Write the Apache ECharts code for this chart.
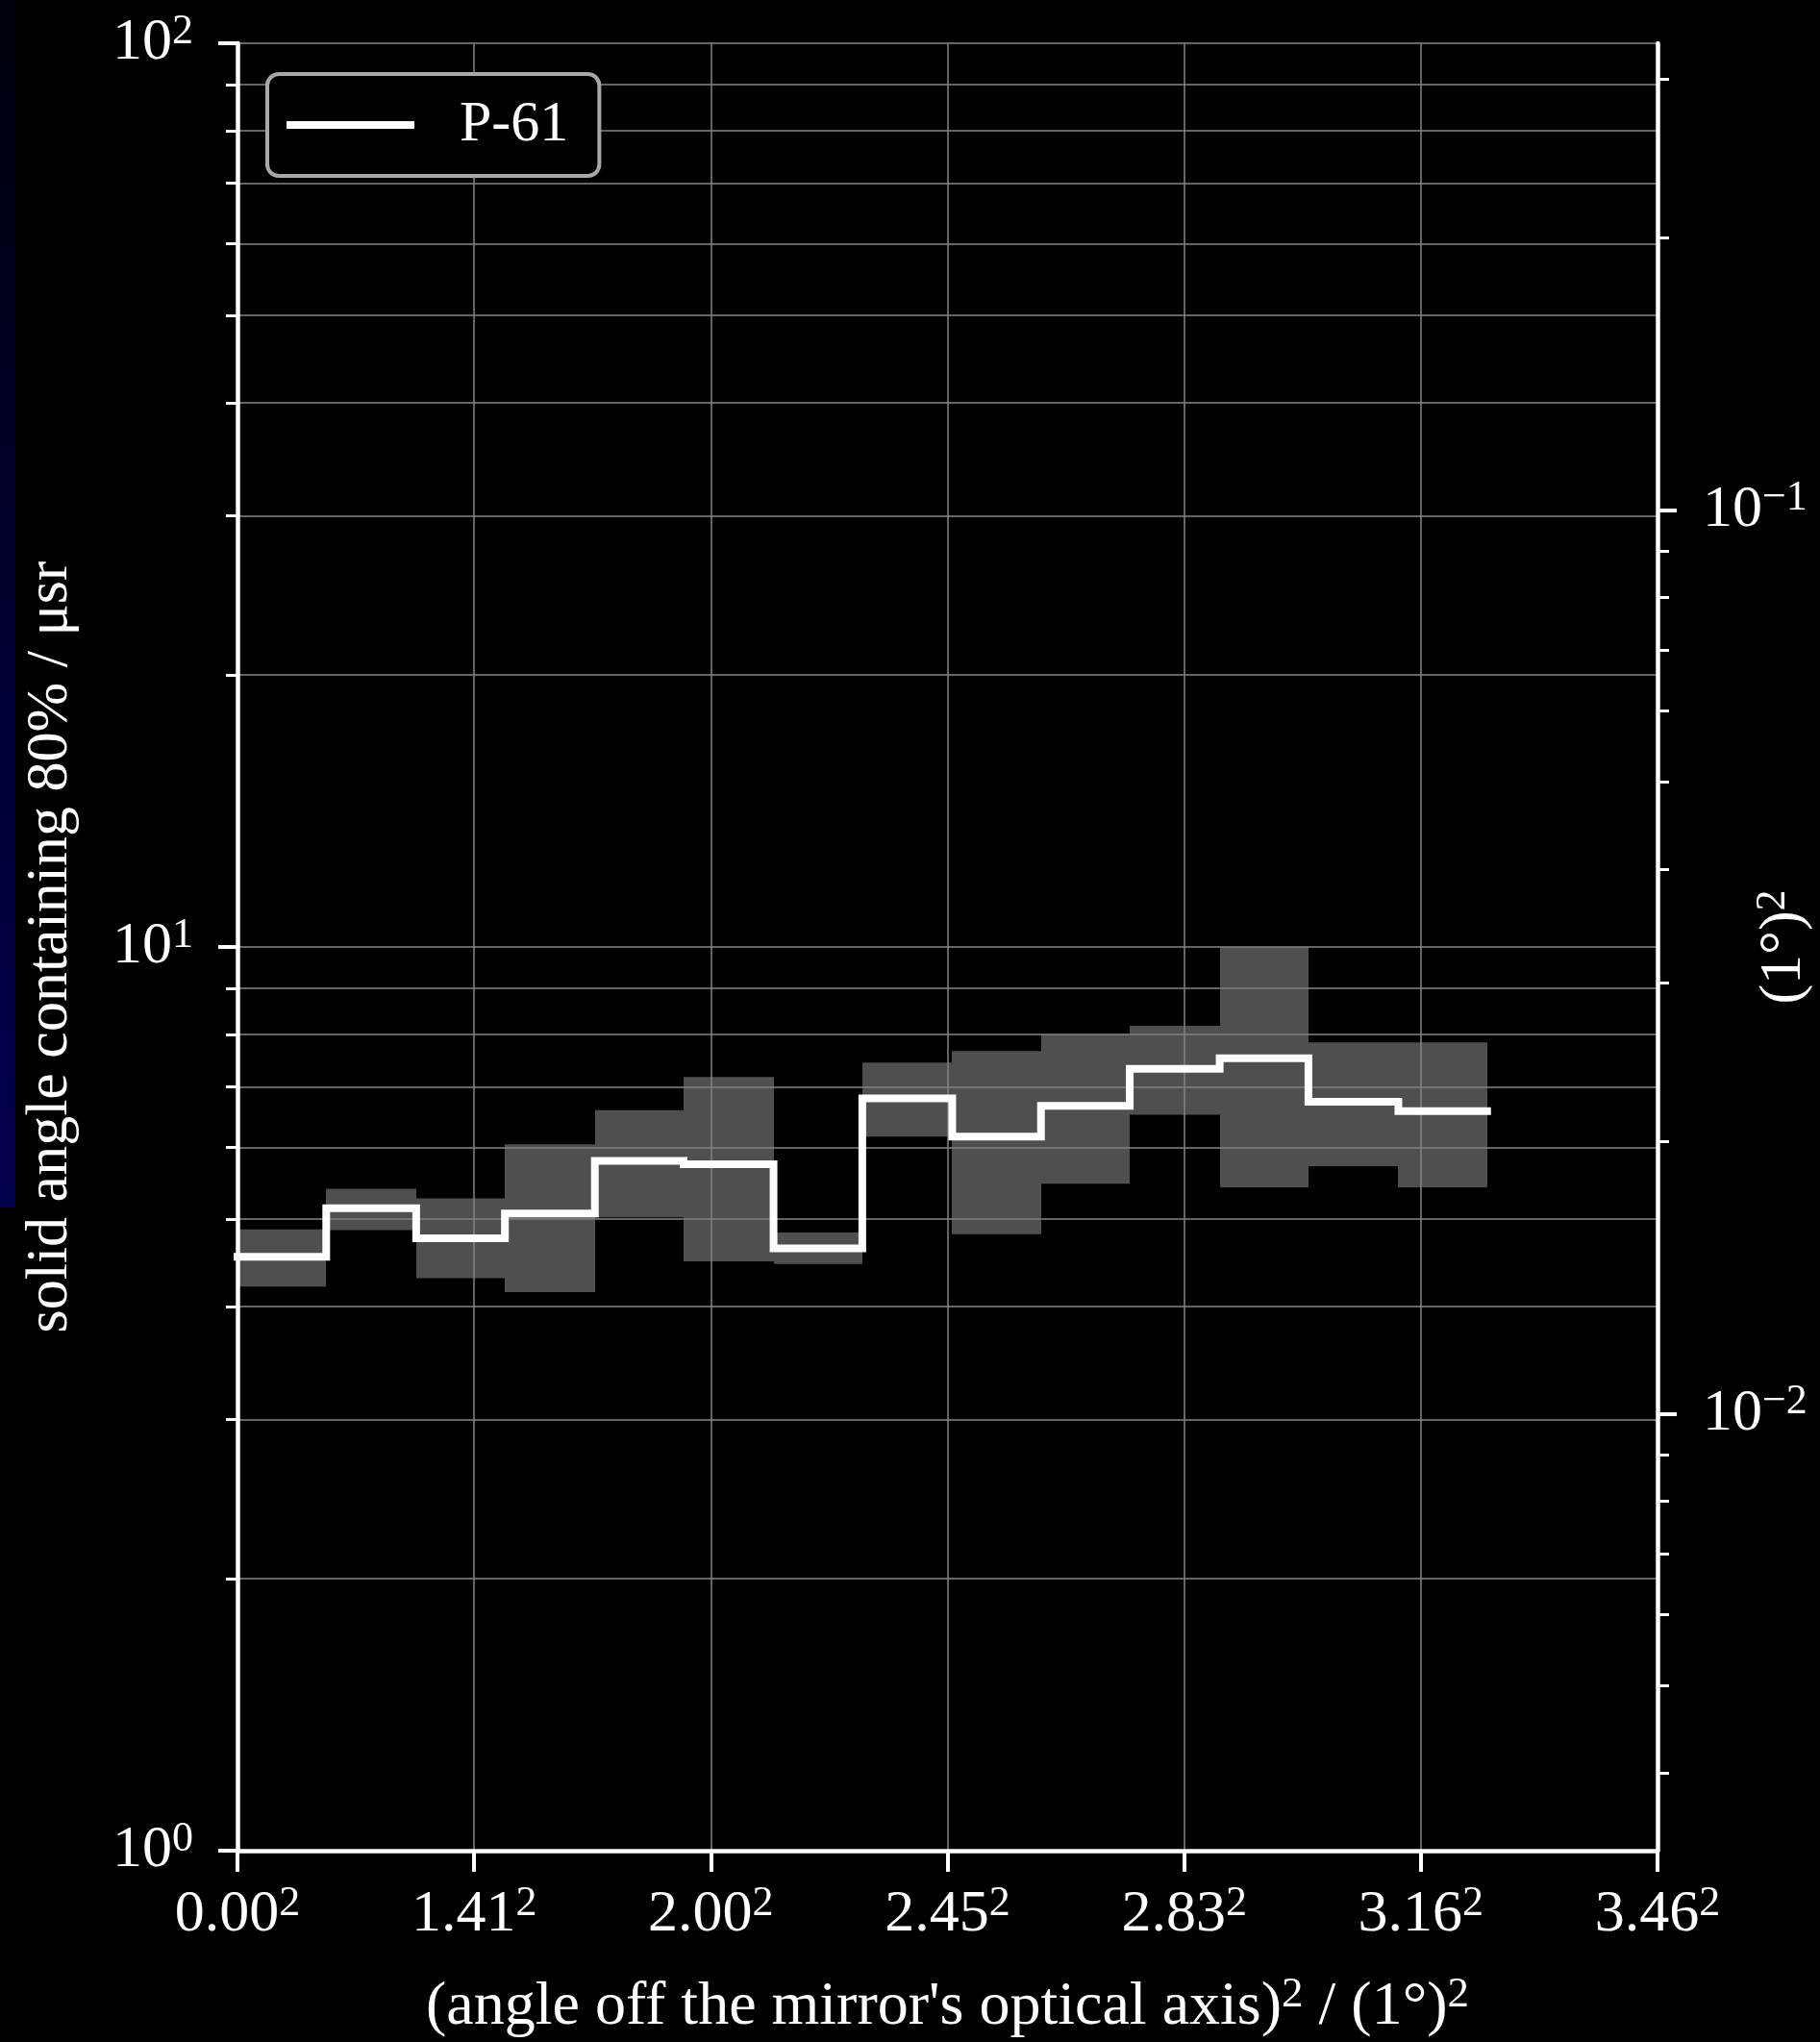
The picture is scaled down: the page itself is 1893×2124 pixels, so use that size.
<!DOCTYPE html>
<html>
<head>
<meta charset="utf-8">
<script src="https://cdn.jsdelivr.net/npm/echarts@6/dist/echarts.min.js"></script>
<style>
html,body{margin:0;padding:0;background:#000;}
#chart{width:1893px;height:2124px;}
</style>
</head>
<body>
<div id="chart"></div>
<script>
// ---- data ----
const binEdges   = [0, 0.75, 1.51, 2.26, 3.02, 3.77, 4.53, 5.28, 6.04, 6.79, 7.54, 8.30, 9.05, 9.81, 10.56];
const medianVals = [4.54, 5.14, 4.76, 5.07, 5.80, 5.75, 4.64, 6.80, 6.17, 6.67, 7.33, 7.53, 6.74, 6.58];
const upperVals  = [4.87, 5.40, 5.27, 6.05, 6.60, 7.18, 4.83, 7.45, 7.67, 8.00, 8.18, 10.0, 7.84, 7.84];
const lowerVals  = [4.21, 4.86, 4.30, 4.15, 5.02, 4.49, 4.46, 6.17, 4.81, 5.47, 6.52, 5.42, 5.72, 5.42];
const seriesName = 'P-61';

const xTickValues = [0, 2, 4, 6, 8, 10, 12];
const xTickLabels = ['0.00', '1.41', '2.00', '2.45', '2.83', '3.16', '3.46'];

const yMajorValues = [1, 10, 100];
const yMajorExps   = ['0', '1', '2'];
const yMinorValues = [2, 3, 4, 5, 6, 7, 8, 9, 20, 30, 40, 50, 60, 70, 80, 90];

const rMajorValues = [0.01, 0.1];
const rMajorExps   = ['\u22122', '\u22121'];
const rMinorValues = [0.004, 0.005, 0.006, 0.007, 0.008, 0.009,
                      0.02, 0.03, 0.04, 0.05, 0.06, 0.07, 0.08, 0.09, 0.2, 0.3];

const Y_MIN = 1, Y_MAX = 100;          // μsr
const MUSR_PER_DEG2 = 304.617;         // 1 (deg)^2 in μsr

const xTitle = ['(angle off the mirror\'s optical axis)', '2', ' / (1\u00B0)', '2'];
const yTitle = 'solid angle containing 80% / \u03BCsr';
const rTitle = ['(1\u00B0)', '2'];

// ---- styles ----
const FONT = '"Liberation Serif", "DejaVu Serif", "Times New Roman", serif';
const WHITE = '#ffffff';
const GRID_COLOR = 'rgba(128,128,128,0.78)';
const rich = {
  b: {fontSize: 62, fontFamily: FONT, color: WHITE, lineHeight: 68},
  s: {fontSize: 44, fontFamily: FONT, color: WHITE, lineHeight: 30, verticalAlign: 'top'}
};
const richTitle = {
  b: {fontSize: 64, fontFamily: FONT, color: WHITE, lineHeight: 70},
  s: {fontSize: 45, fontFamily: FONT, color: WHITE, lineHeight: 28, verticalAlign: 'top'}
};
function findIdx(arr, v) {
  return arr.findIndex(a => Math.abs(Math.log10(a) - Math.log10(v)) < 1e-6);
}

// line data: step from each bin edge
const stepData = binEdges.map((e, i) => [e, medianVals[Math.min(i, medianVals.length - 1)]]);
const bandData = medianVals.map((m, i) => [binEdges[i], binEdges[i + 1], lowerVals[i], upperVals[i]]);

const chart = echarts.init(document.getElementById('chart'), null, {renderer: 'canvas'});

const option = {
  backgroundColor: '#000',
  animation: false,
  textStyle: {fontFamily: FONT},
  graphic: [{
    type: 'rect', left: 0, top: 0, silent: true, z: -10,
    shape: {width: 16, height: 1256},
    style: {fill: new echarts.graphic.LinearGradient(0, 0, 0, 1, [
      {offset: 0, color: '#00000c'},
      {offset: 0.45, color: '#00002e'},
      {offset: 1, color: '#000050'}
    ])}
  }],
  grid: {left: 247, right: 169, top: 45, bottom: 199, containLabel: false, outerBoundsMode: 'none'},
  legend: {
    left: 278, top: 77,
    padding: [22, 32, 22, 20],
    backgroundColor: '#000',
    borderColor: '#a8a8a8', borderWidth: 4, borderRadius: 12,
    itemWidth: 133, itemHeight: 8,
    textStyle: {color: WHITE, fontSize: 60, fontFamily: FONT, padding: [0, 0, 0, 42], lineHeight: 62},
    data: [{name: seriesName, icon: 'rect', itemStyle: {color: WHITE, borderWidth: 0}}]
  },
  xAxis: {
    type: 'value', min: 0, max: 12, interval: 2,
    axisLine: {show: true, onZero: false, lineStyle: {color: WHITE, width: 4.5}},
    axisTick: {show: true, length: 22, lineStyle: {color: WHITE, width: 4}},
    splitLine: {show: true, lineStyle: {color: GRID_COLOR, width: 2}},
    axisLabel: {
      margin: 33, rich: rich,
      formatter: function (v) {
        const i = xTickValues.indexOf(v);
        return i < 0 ? '' : '{b|' + xTickLabels[i] + '}{s|2}';
      }
    },
    name: '{b|' + xTitle[0] + '}{s|' + xTitle[1] + '}{b|' + xTitle[2] + '}{s|' + xTitle[3] + '}',
    nameLocation: 'middle', nameGap: 128, nameMoveOverlap: false,
    nameTextStyle: {rich: richTitle}
  },
  yAxis: [
    { // minor ticks + horizontal grid
      type: 'log', logBase: 10, min: Y_MIN, max: Y_MAX, position: 'left',
      axisLine: {show: true, lineStyle: {color: WHITE, width: 4.5}},
      axisTick: {show: true, customValues: yMinorValues.concat(yMajorValues), length: 12, lineStyle: {color: WHITE, width: 3}},
      splitLine: {show: true, lineStyle: {color: GRID_COLOR, width: 2}},
      axisLabel: {show: false}
    },
    { // major ticks + labels + title
      type: 'log', logBase: 10, min: Y_MIN, max: Y_MAX, position: 'left',
      axisLine: {show: false},
      axisTick: {show: true, customValues: yMajorValues, length: 20, lineStyle: {color: WHITE, width: 4}},
      splitLine: {show: false},
      axisLabel: {
        customValues: yMajorValues, margin: 46, rich: rich,
        formatter: function (v) {
          const i = findIdx(yMajorValues, v);
          return i < 0 ? '' : '{b|10}{s|' + yMajorExps[i] + '}';
        }
      },
      name: yTitle, nameLocation: 'middle', nameGap: 160, nameMoveOverlap: false,
      nameTextStyle: {color: WHITE, fontSize: 62, fontFamily: FONT, lineHeight: 68}
    },
    { // right axis minor ticks
      type: 'log', logBase: 10, min: Y_MIN / MUSR_PER_DEG2, max: Y_MAX / MUSR_PER_DEG2, position: 'right',
      axisLine: {show: true, lineStyle: {color: WHITE, width: 4.5}},
      axisTick: {show: true, customValues: rMinorValues, length: 12, lineStyle: {color: WHITE, width: 3}},
      splitLine: {show: false},
      axisLabel: {show: false}
    },
    { // right axis major ticks + labels + title
      type: 'log', logBase: 10, min: Y_MIN / MUSR_PER_DEG2, max: Y_MAX / MUSR_PER_DEG2, position: 'right',
      axisLine: {show: false},
      axisTick: {show: true, customValues: rMajorValues, length: 20, lineStyle: {color: WHITE, width: 4}},
      splitLine: {show: false},
      axisLabel: {
        customValues: rMajorValues, margin: 47, rich: rich,
        formatter: function (v) {
          const i = findIdx(rMajorValues, v);
          return i < 0 ? '' : '{b|10}{s|' + rMajorExps[i] + '}';
        }
      },
      name: '{b|' + rTitle[0] + '}{s|' + rTitle[1] + '}',
      nameLocation: 'middle', nameGap: 98, nameMoveOverlap: false,
      nameTextStyle: {rich: rich}
    }
  ],
  series: [
    {
      name: 'band', type: 'custom', xAxisIndex: 0, yAxisIndex: 0, z: -1,
      silent: true,
      encode: {x: [0, 1], y: [2, 3]},
      data: bandData,
      renderItem: function (params, api) {
        const pTop = api.coord([api.value(0), api.value(3)]);
        const pBot = api.coord([api.value(1), api.value(2)]);
        const l = Math.round(pTop[0]), r = Math.round(pBot[0]);
        return {
          type: 'rect',
          shape: {x: l, y: pTop[1], width: r - l, height: pBot[1] - pTop[1]},
          style: {fill: '#4f4f4f'}
        };
      }
    },
    {
      name: seriesName, type: 'line', xAxisIndex: 0, yAxisIndex: 0, z: 5,
      step: 'end', showSymbol: false, symbol: 'none',
      color: WHITE,
      lineStyle: {color: WHITE, width: 8, cap: 'square', join: 'miter'},
      data: stepData
    }
  ]
};
chart.setOption(option);
</script>
</body>
</html>
